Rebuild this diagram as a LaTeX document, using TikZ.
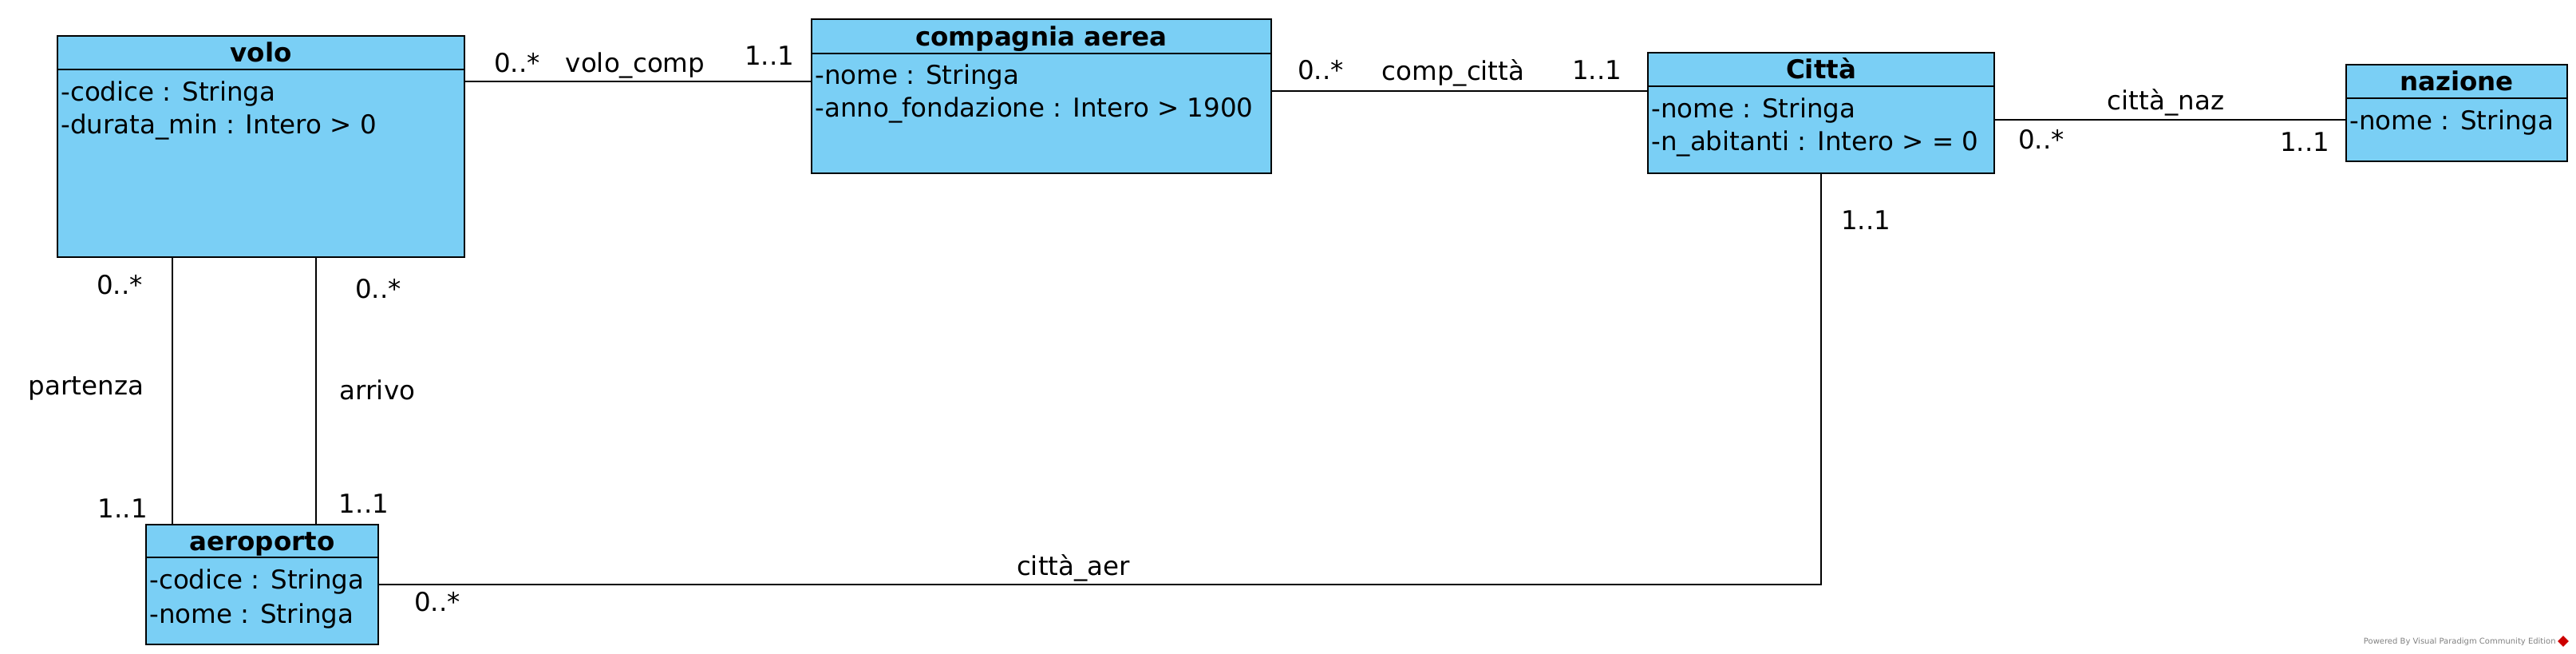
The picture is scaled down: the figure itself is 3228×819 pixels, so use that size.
\documentclass[tikz,border=0pt]{standalone}
\usepackage{fontspec}
\setmainfont{DejaVu Sans}
\usetikzlibrary{positioning,shapes.geometric}
\definecolor{classblue}{RGB}{122,207,245}
\tikzset{
  head/.style={draw, line width=1.2pt, fill=classblue, inner sep=0pt, outer sep=0pt, text height=11.5pt, text depth=0pt, font=\fontsize{16.25}{20}\selectfont\bfseries},
  body/.style={draw, line width=1.2pt, fill=classblue, inner sep=0pt, outer sep=0pt},
  attr/.style={anchor=base west, inner sep=0pt},
  lbl/.style={anchor=base, inner sep=0pt},
  assoc/.style={line width=1pt}
}

\begin{document}
\begin{tikzpicture}[x=0.5pt, y=-0.5pt, font=\fontsize{16.25}{20}\selectfont]
  \useasboundingbox (0,0) rectangle (3228,819);

  \node[head, minimum width=255pt, minimum height=21pt, anchor=north west] (voloH) at (72,45) {volo};
  \node[body, minimum width=255pt, minimum height=117.5pt, below=0pt of voloH] (voloB) {};
  \node[attr] (voloA1) at (76,126) {-codice : Stringa};
  \node[attr] (voloA2) at (76,167) {-durata\_min : Intero > 0};

  \node[head, minimum width=288pt, minimum height=21.5pt, anchor=north west] (cmpH) at (1017,24) {compagnia aerea};
  \node[body, minimum width=288pt, minimum height=75pt, below=0pt of cmpH] (cmpB) {};
  \node[attr] (cmpA1) at (1021,105) {-nome : Stringa};
  \node[attr] (cmpA2) at (1021,146) {-anno\_fondazione : Intero > 1900};

  \node[head, minimum width=217pt, minimum height=21pt, anchor=north west] (cittaH) at (2065,66) {Città};
  \node[body, minimum width=217pt, minimum height=54.5pt, below=0pt of cittaH] (cittaB) {};
  \node[attr] (cittaA1) at (2069,147) {-nome : Stringa};
  \node[attr] (cittaA2) at (2069,188) {-n\_abitanti : Intero > = 0};

  \node[head, minimum width=138.5pt, minimum height=21pt, anchor=north west] (nazH) at (2940,81) {nazione};
  \node[body, minimum width=138.5pt, minimum height=39.5pt, below=0pt of nazH] (nazB) {};
  \node[attr] (nazA1) at (2944,162) {-nome : Stringa};

  \node[head, minimum width=145.5pt, minimum height=20.5pt, anchor=north west] (aerH) at (183,657) {aeroporto};
  \node[body, minimum width=145.5pt, minimum height=54.5pt, below=0pt of aerH] (aerB) {};
  \node[attr] (aerA1) at (187,737) {-codice : Stringa};
  \node[attr] (aerA2) at (187,780) {-nome : Stringa};

  \draw[assoc] (voloB.east |- 0,102) -- (cmpB.west |- 0,102);
  \node[lbl] (vcM1) at (648,90) {0..*};
  \node[lbl] (vcN) at (796,90) {volo\_comp};
  \node[lbl] (vcM2) at (964,81) {1..1};

  \draw[assoc] (cmpB.east |- 0,114) -- (cittaB.west |- 0,114);
  \node[lbl] (ccM1) at (1655,99) {0..*};
  \node[lbl] (ccN) at (1821,100) {comp\_città};
  \node[lbl] (ccM2) at (2001,99) {1..1};

  \draw[assoc] (cittaB.east |- 0,150) -- (nazB.west |- 0,150);
  \node[lbl] (cnN) at (2714,137) {città\_naz};
  \node[lbl] (cnM1) at (2558,186) {0..*};
  \node[lbl] (cnM2) at (2888,189) {1..1};

  \draw[assoc] (voloB.south -| 216,0) -- (aerH.north -| 216,0);
  \node[lbl] (paM1) at (150,368) {0..*};
  \node[lbl] (paN) at (108,494) {partenza};
  \node[lbl] (paM2) at (154,648) {1..1};

  \draw[assoc] (voloB.south -| 396,0) -- (aerH.north -| 396,0);
  \node[lbl] (arM1) at (474,373) {0..*};
  \node[lbl] (arN) at (473,500) {arrivo};
  \node[lbl] (arM2) at (456,642) {1..1};

  \draw[assoc] (cittaB.south) -- (cittaB.south |- 0,732) -- (aerB.east |- 0,732);
  \node[lbl] (caM2) at (2338,287) {1..1};
  \node[lbl] (caN) at (1345,720) {città\_aer};
  \node[lbl] (caM1) at (548,765) {0..*};

  \node[anchor=base east, inner sep=0pt, text=gray, font=\fontsize{5}{6}\selectfont] (vp) at (3203,806) {Powered By Visual Paradigm Community Edition};
  \node[diamond, fill=red!80!black, minimum size=7pt, inner sep=0pt] (vpLogo) at (3212,803) {};
\end{tikzpicture}
\end{document}
